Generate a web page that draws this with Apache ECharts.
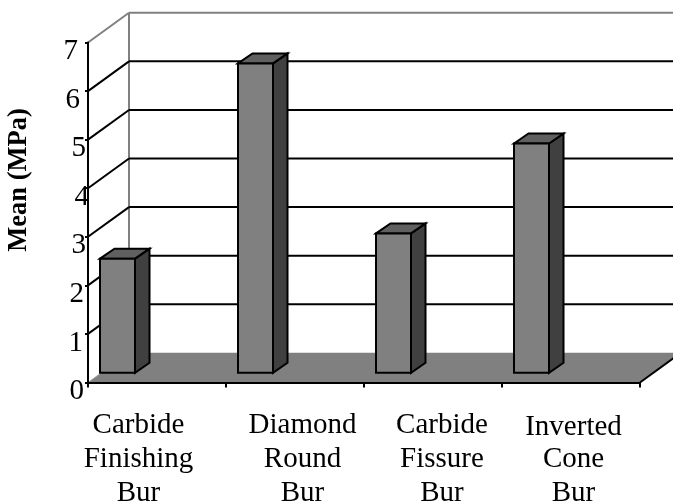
<!DOCTYPE html>
<html><head><meta charset="utf-8">
<style>html,body{margin:0;padding:0;background:#fff}#c{width:673px;height:501px}</style>
<script src="https://cdn.jsdelivr.net/npm/echarts@6/dist/echarts.min.js"></script>
</head><body><div id="c"></div>
<script>
const categories = [['Carbide','Finishing','Bur'],['Diamond','Round','Bur'],['Carbide','Fissure','Bur'],['Inverted','Cone','Bur']];
const values = [2.35, 6.37, 2.87, 4.72];
const yTicks = [0,1,2,3,4,5,6,7];
const yTitle = 'Mean (MPa)';

// look of the pseudo-3D box (pixels)
const WALL = [41, -29.7], BAR_DEPTH = [14.5, -10], BAR_BASE = [-57, -9.7], BAR_W = 35;
const GRAY = '#808080', SIDE = '#404040', TOP = '#606060';
const FONT = '"Liberation Serif","Times New Roman",serif', FS = 29;
const yPadRight = [5,6,5,3,0,3,9,11];
const xPad = [[0,37],[15,0],[18,0],[5,0]];
const xPadTop = [0,0,0,4];

const rich = {};
yTicks.forEach((v,i)=>{rich['y'+v]={fontFamily:FONT,fontSize:FS,color:'#000',padding:[18,yPadRight[i],0,0]};});
categories.forEach((c,i)=>{
  rich['x'+i]={fontFamily:FONT,fontSize:FS,lineHeight:34,color:'#000',padding:[0,xPad[i][1],0,xPad[i][0]]};
  rich['t'+i]={fontFamily:FONT,fontSize:FS,lineHeight:34,color:'#000',padding:[xPadTop[i],xPad[i][1],0,xPad[i][0]]};
});

const line=(x1,y1,x2,y2,color,w)=>({type:'line',shape:{x1,y1,x2,y2},style:{stroke:color,lineWidth:w}});

const option = {
  animation:false, backgroundColor:'#fff',
  grid:{left:88,right:33,top:42.5,bottom:118.5,outerBoundsMode:'none'},
  xAxis:{type:'category',data:categories.map(c=>c.join('\n')),
    axisLine:{lineStyle:{color:'#000',width:2}},
    axisTick:{show:true,length:5,lineStyle:{color:'#000',width:2}},
    axisLabel:{interval:0,margin:26,formatter:(v,i)=>v.split('\n').map((s,j)=>`{${j===0?'t':'x'}${i}|${s}}`).join('\n'),rich},
    z:5},
  yAxis:{type:'value',min:0,max:7,interval:1,
    splitLine:{show:false},
    axisLine:{show:true,lineStyle:{color:'#000',width:2}},
    axisTick:{show:true,length:3,lineStyle:{color:'#000',width:2}},
    axisLabel:{margin:-1,formatter:v=>`{y${v}|${v}}`,rich},
    name:yTitle,nameLocation:'middle',nameGap:55,nameRotate:90,
    nameTextStyle:{fontFamily:FONT,fontSize:26.5,fontWeight:'bold',color:'#000',padding:[0,0,0,65]},
    z:5},
  series:[
    {type:'custom',coordinateSystem:'cartesian2d',z:1,silent:true,clip:false,
      data:yTicks.map(v=>[0,v]),encode:{x:0,y:1},
      renderItem(p,api){
        const v=api.value(1), a=api.coord([0,v]), l=p.coordSys.x, r=l+p.coordSys.width, y=a[1];
        const bx=l+WALL[0], by=y+WALL[1], kids=[];
        if(v===0){
          kids.push({type:'polygon',shape:{points:[[l,y],[r,y],[r+WALL[0],by],[bx,by]]},style:{fill:GRAY}});
          kids.push(line(l,y,bx,by,'#a0a0a0',1));
          kids.push(line(r,y,r+WALL[0],by,'#000',2));
          kids.push(line(bx,by,bx,p.coordSys.y+WALL[1],GRAY,2));
        } else {
          const c=v===7?GRAY:'#000';
          kids.push(line(bx,by,r+WALL[0],by,c,2));
          kids.push(line(l,y,bx,by,c,2));
        }
        return {type:'group',children:kids};
      }},
    {type:'custom',coordinateSystem:'cartesian2d',z:3,silent:true,clip:false,
      data:values.map((v,i)=>[i,v]),encode:{x:0,y:1},
      renderItem(p,api){
        const t=api.coord([api.value(0),api.value(1)]), b=api.coord([api.value(0),0]);
        const x0=t[0]+BAR_BASE[0], x1=x0+BAR_W, yT=t[1]+BAR_BASE[1], yB=b[1]+BAR_BASE[1];
        const [dx,dy]=BAR_DEPTH, s={stroke:'#000',lineWidth:2,lineJoin:'miter'};
        return {type:'group',children:[
          {type:'polygon',shape:{points:[[x1,yT],[x1+dx,yT+dy],[x1+dx,yB+dy],[x1,yB]]},style:{fill:SIDE,...s}},
          {type:'polygon',shape:{points:[[x0,yT],[x0+dx,yT+dy],[x1+dx,yT+dy],[x1,yT]]},style:{fill:TOP,...s}},
          {type:'rect',shape:{x:x0,y:yT,width:BAR_W,height:yB-yT},style:{fill:GRAY,...s}}
        ]};
      }}
  ]
};
echarts.init(document.getElementById('c'),null,{renderer:'canvas'}).setOption(option);
</script></body></html>
